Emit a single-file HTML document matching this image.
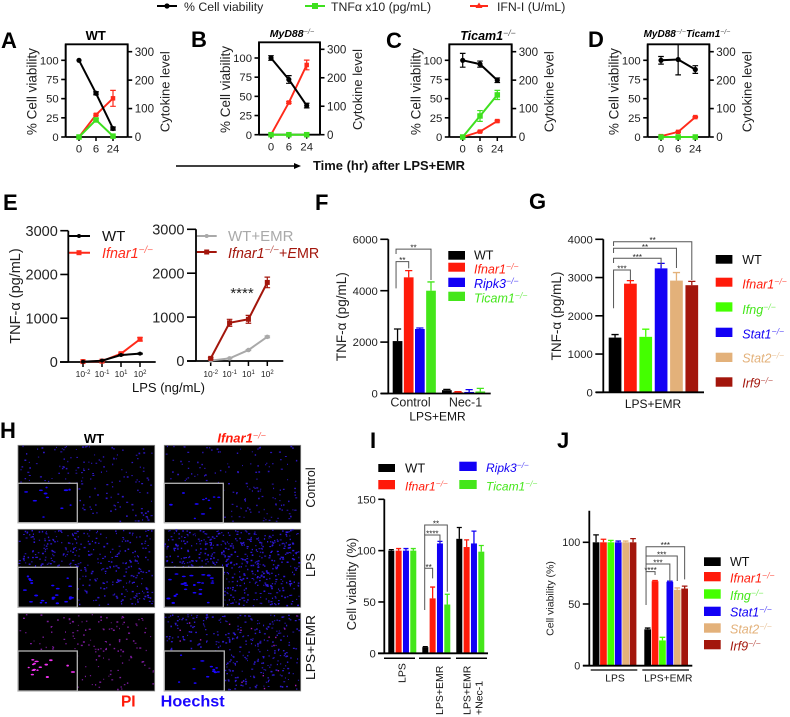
<!DOCTYPE html>
<html lang="en">
<head>
<meta charset="utf-8">
<title>LPS+EMR cell viability figure</title>
<style>
html,body{margin:0;padding:0;background:#fff;width:790px;height:717px;overflow:hidden}
svg{display:block;font-family:"Liberation Sans",sans-serif;filter:blur(.3px)}
.let{font-size:22px;font-weight:700;fill:#000}
.sup{font-size:70%;font-weight:400;opacity:.7}
.leg{font-size:12.5px;font-style:italic}
</style>
</head>
<body>
<svg id="figure" xmlns="http://www.w3.org/2000/svg" width="790" height="717" viewBox="0 0 790 717">
  <rect x="0" y="0" width="790" height="717" fill="#fff"/>

  <g>
    <text class="let" x="1" y="48">A</text>
    <text class="let" x="191" y="47">B</text>
    <text class="let" x="386" y="48">C</text>
    <text class="let" x="588" y="47">D</text>
    <text class="let" x="3" y="210">E</text>
    <text class="let" x="315" y="210">F</text>
    <text class="let" x="529" y="209">G</text>
    <text class="let" x="0" y="438">H</text>
    <text class="let" x="370" y="448">I</text>
    <text class="let" x="557" y="448">J</text>
  </g>

  <g>
    <g>
      <line x1="157" y1="6" x2="177" y2="6" stroke="#000" stroke-width="2"/>
      <circle cx="167" cy="6" r="2.6" fill="#000"/>
      <text x="184" y="11" font-size="12.3" fill="#222">% Cell viability</text>
    </g>
    <g>
      <line x1="305" y1="6" x2="325" y2="6" stroke="#3fe01f" stroke-width="2"/>
      <rect x="312" y="3" width="6" height="6" fill="#3fe01f"/>
      <text x="331" y="11" font-size="12.3" fill="#222">TNFα x10 (pg/mL)</text>
    </g>
    <g>
      <line x1="470" y1="6" x2="488" y2="6" stroke="#ff2a1a" stroke-width="2"/>
      <polygon points="479,2.5 482.5,8 475.5,8" fill="#ff2a1a"/>
      <text x="497" y="11" font-size="12.3" fill="#222">IFN-I (U/mL)</text>
    </g>
  </g>

  <g>
    <line x1="176" y1="166" x2="296" y2="166" stroke="#000" stroke-width="1.4"/>
    <polygon points="301,166 294,163 294,169" fill="#000"/>
    <text x="313" y="170" font-size="12.5" font-weight="700" fill="#111" textLength="152" lengthAdjust="spacingAndGlyphs">Time (hr) after LPS+EMR</text>
  </g>

  <g>
    <text x="95.7" y="40" font-size="13" font-weight="700" text-anchor="middle">WT</text>
    <text x="292" y="37" font-size="10.5" font-weight="700" font-style="italic" text-anchor="middle">MyD88<tspan class="sup" dy="-3">−/−</tspan></text>
    <text x="488" y="40" font-size="12.5" font-weight="700" font-style="italic" text-anchor="middle">Ticam1<tspan class="sup" dy="-4">−/−</tspan></text>
    <text x="687" y="37" font-size="10" font-weight="700" font-style="italic" text-anchor="middle">MyD88<tspan class="sup" dy="-3">−/−</tspan><tspan dy="3">Ticam1</tspan><tspan class="sup" dy="-3">−/−</tspan></text>
  </g>

  <g>
    <g>
      <line x1="68" y1="236" x2="90" y2="236" stroke="#000" stroke-width="2"/><circle cx="79" cy="236" r="2" fill="#000"/>
      <text x="102" y="241" font-size="15" fill="#111">WT</text>
    </g>
    <g>
      <line x1="68" y1="252.7" x2="90" y2="252.7" stroke="#ff2a1a" stroke-width="2"/><rect x="76.5" y="250.2" width="5" height="5" fill="#ff2a1a"/>
      <text x="102" y="258" font-size="14.3" font-style="italic" fill="#ff2a1a">Ifnar1<tspan class="sup" dy="-5">−/−</tspan></text>
    </g>
    <g>
      <line x1="196.7" y1="236" x2="216.7" y2="236" stroke="#a9a9a9" stroke-width="2"/><circle cx="206.7" cy="236" r="2" fill="#a9a9a9"/>
      <text x="228" y="241" font-size="15" fill="#a9a9a9">WT+EMR</text>
    </g>
    <g>
      <line x1="196.7" y1="252" x2="216.7" y2="252" stroke="#a3160c" stroke-width="2"/><rect x="204.2" y="249.5" width="5" height="5" fill="#a3160c"/>
      <text x="228" y="258" font-size="14.3" fill="#a3160c"><tspan font-style="italic">Ifnar1</tspan><tspan class="sup" dy="-5" font-style="italic">−/−</tspan><tspan dy="5">+</tspan><tspan font-style="italic">E</tspan>MR</text>
    </g>
  </g>
  <text x="168.5" y="392" font-size="12.5" text-anchor="middle" fill="#111" textLength="73" lengthAdjust="spacingAndGlyphs">LPS (ng/mL)</text>
  <text x="242" y="298" font-size="15" text-anchor="middle" fill="#222">****</text>

  <g>
    <g><rect x="448.3" y="251" width="16.7" height="8.7" fill="#000"/><text x="474" y="259.7" font-size="12.5" fill="#111">WT</text></g>
    <g><rect x="448.3" y="262.7" width="16.7" height="9" fill="#ff1a0a"/><text class="leg" x="474" y="273.3" fill="#ff1a0a">Ifnar1<tspan class="sup" dy="-4">−/−</tspan></text></g>
    <g><rect x="448.3" y="277.7" width="16.7" height="9.3" fill="#1200f5"/><text class="leg" x="474" y="288" fill="#1200f5">Ripk3<tspan class="sup" dy="-4">−/−</tspan></text></g>
    <g><rect x="448.3" y="291.7" width="16.7" height="9.3" fill="#44e61a"/><text class="leg" x="474" y="302.3" fill="#44e61a">Ticam1<tspan class="sup" dy="-4">−/−</tspan></text></g>
  </g>
  <text x="437.5" y="420.7" font-size="12" text-anchor="middle" fill="#111">LPS+EMR</text>

  <g>
    <g><rect x="715.7" y="255" width="16.7" height="8.7" fill="#000"/><text x="742.3" y="264" font-size="12.5" fill="#111">WT</text></g>
    <g><rect x="715.7" y="277.7" width="16.7" height="9" fill="#ff1a0a"/><text class="leg" x="742.3" y="288.3" fill="#ff1a0a">Ifnar1<tspan class="sup" dy="-4">−/−</tspan></text></g>
    <g><rect x="715.7" y="302.3" width="16.7" height="9.3" fill="#44ff00"/><text class="leg" x="742.3" y="314" fill="#44e61a">Ifng<tspan class="sup" dy="-4">−/−</tspan></text></g>
    <g><rect x="715.7" y="327.7" width="16.7" height="9.3" fill="#1200f5"/><text class="leg" x="742.3" y="338.3" fill="#1200f5">Stat1<tspan class="sup" dy="-4">−/−</tspan></text></g>
    <g><rect x="715.7" y="352.7" width="16.7" height="9.3" fill="#e3b17a"/><text class="leg" x="742.3" y="362.7" fill="#e3b17a">Stat2<tspan class="sup" dy="-4">−/−</tspan></text></g>
    <g><rect x="715.7" y="377.3" width="16.7" height="9.4" fill="#a3160c"/><text class="leg" x="742.3" y="387.3" fill="#a3160c">Irf9<tspan class="sup" dy="-4">−/−</tspan></text></g>
  </g>
  <text x="653" y="408" font-size="12" text-anchor="middle" fill="#111">LPS+EMR</text>

  <g>
    <text x="94" y="443" font-size="13" font-weight="700" text-anchor="middle">WT</text>
    <text x="241.7" y="442.3" font-size="13" font-weight="700" font-style="italic" fill="#ff1a0a" text-anchor="middle">Ifnar1<tspan class="sup" dy="-4">−/−</tspan></text>
    <text transform="rotate(-90 315 487.5)" x="315" y="487.5" font-size="12.5" text-anchor="middle" fill="#111">Control</text>
    <text transform="rotate(-90 315 565)" x="315" y="565" font-size="12.5" text-anchor="middle" fill="#111">LPS</text>
    <text transform="rotate(-90 315 647.5)" x="315" y="647.5" font-size="12.5" text-anchor="middle" fill="#111" textLength="65" lengthAdjust="spacingAndGlyphs">LPS+EMR</text>
    <text x="128.3" y="706.7" font-size="15.5" font-weight="700" fill="#ff1a0a" text-anchor="middle">PI</text>
    <text x="160.7" y="706.7" font-size="15.5" font-weight="700" fill="#1a06ff" textLength="64" lengthAdjust="spacingAndGlyphs">Hoechst</text>
  </g>

  <g>
    <g><rect x="378.3" y="464" width="16.7" height="8" fill="#000"/><text x="405" y="472.3" font-size="13" fill="#111">WT</text></g>
    <g><rect x="378.3" y="480" width="16.7" height="9.3" fill="#ff1a0a"/><text x="405" y="490.7" font-size="12" font-style="italic" fill="#ff1a0a">Ifnar1<tspan class="sup" dy="-4">−/−</tspan></text></g>
    <g><rect x="459.3" y="461.7" width="17.4" height="9.3" fill="#1200f5"/><text x="486" y="472" font-size="12" font-style="italic" fill="#1200f5">Ripk3<tspan class="sup" dy="-4">−/−</tspan></text></g>
    <g><rect x="459.3" y="480" width="17.4" height="9" fill="#44e61a"/><text x="486" y="490.7" font-size="12" font-style="italic" fill="#44e61a">Ticam1<tspan class="sup" dy="-4">−/−</tspan></text></g>
  </g>

  <g>
    <g><rect x="704" y="557.3" width="16.7" height="8.7" fill="#000"/><text x="730" y="566" font-size="12.5" fill="#111">WT</text></g>
    <g><rect x="704" y="572" width="16.7" height="9.3" fill="#ff1a0a"/><text class="leg" x="730" y="582.7" fill="#ff1a0a">Ifnar1<tspan class="sup" dy="-4">−/−</tspan></text></g>
    <g><rect x="704" y="589.3" width="16.7" height="9.4" fill="#44ff00"/><text class="leg" x="730" y="600" fill="#44e61a">Ifng<tspan class="sup" dy="-4">−/−</tspan></text></g>
    <g><rect x="704" y="606.7" width="16.7" height="9.3" fill="#1200f5"/><text class="leg" x="730" y="616.7" fill="#1200f5">Stat1<tspan class="sup" dy="-4">−/−</tspan></text></g>
    <g><rect x="704" y="623.3" width="16.7" height="9.4" fill="#e3b17a"/><text class="leg" x="730" y="633.3" fill="#e3b17a">Stat2<tspan class="sup" dy="-4">−/−</tspan></text></g>
    <g><rect x="704" y="640" width="16.7" height="9.3" fill="#a3160c"/><text class="leg" x="730" y="650.7" fill="#a3160c">Irf9<tspan class="sup" dy="-4">−/−</tspan></text></g>
  </g>
</svg>

<script>
/* ---------- chart data ---------- */
const timeLabels = ['0', '6', '24'];
const viabilityTicks = [0, 25, 50, 75, 100];
const cytokineTicks = [0, 100, 200, 300];

const aViability = [100, 57, 11];
const aViabilityErr = [0, 2, 2];
const aTnf = [0, 60, 3];
const aTnfErr = [0, 5, 0];
const aIfn = [0, 78, 136];
const aIfnErr = [0, 3, 28];

const bViability = [100, 72, 38];
const bViabilityErr = [3, 5, 3];
const bTnf = [0, 0, 0];
const bTnfErr = [0, 0, 0];
const bIfn = [0, 113, 245];
const bIfnErr = [0, 3, 17];

const cViability = [100, 95, 74];
const cViabilityErr = [9, 4, 3];
const cTnf = [0, 74, 148];
const cTnfErr = [0, 19, 16];
const cIfn = [0, 19, 56];
const cIfnErr = [0, 2, 3];

const dViability = [100, 101, 88];
const dViabilityErr = [5, 20, 5];
const dTnf = [0, 0, 0];
const dTnfErr = [0, 0, 0];
const dIfn = [3, 18, 70];
const dIfnErr = [0, 2, 2];

const doseLabels = ['10^-2;', '10^-1;', '10^1;', '10^2;'];
const tnfTicksE = [0, 1000, 2000, 3000];
const eWt = [5, 30, 160, 190];
const eWtErr = [0, 0, 10, 10];
const eIfnar = [10, 20, 190, 520];
const eIfnarErr = [0, 0, 15, 40];
const eWtEmr = [10, 60, 250, 550];
const eWtEmrErr = [0, 10, 10, 20];
const eIfnarEmr = [60, 870, 950, 1790];
const eIfnarEmrErr = [20, 80, 90, 120];

const tnfTicksF = [0, 2000, 4000, 6000];
const fControl = [2040, 4520, 2510, 4000];
const fControlErr = [470, 260, 40, 340];
const fNec = [130, 50, 60, 80];
const fNecErr = [30, 20, 90, 120];

const tnfTicksG = [0, 1000, 2000, 3000, 4000];
const gLpsEmr = [1430, 2840, 1450, 3240, 2920, 2800];
const gLpsEmrErr = [80, 80, 200, 130, 210, 100];

const viabilityTicksI = [0, 50, 100, 150];
const iLps = [100, 100, 100, 100];
const iLpsErr = [1, 2, 2, 2];
const iLpsEmr = [6, 53.5, 107, 47.5];
const iLpsEmrErr = [0.5, 11, 2, 10];
const iNec = [111.5, 103.5, 107, 99];
const iNecErr = [11, 7, 12, 6];

const viabilityTicksJ = [0, 50, 100];
const jLps = [100, 100, 100, 100, 100, 100];
const jLpsErr = [6, 2.5, 1.5, 1, 1, 3];
const jLpsEmr = [29.5, 68.5, 20.5, 68, 61.5, 62.5];
const jLpsEmrErr = [1, 0.5, 2.5, 0.5, 1.5, 2];

/* [group, from bar, to bar, top value, left foot value, right foot value, stars] */
const fBrackets = [[0, 0, 1, 5130, 4090, 4870, '**'], [0, 0, 3, 5620, 5430, 4415, '**']];
const gBrackets = [[0, 0, 1, 3197, 2196, 2936, '***'], [0, 0, 3, 3503, 3380, 3328, '***'], [0, 0, 4, 3765, 3642, 3250, '**'], [0, 0, 5, 3937, 3825, 2936, '**']];
const iBrackets = [[1, 0, 1, 82.8, 42.2, 73, '**'], [1, 0, 2, 115.2, 83, 108.7, '****'], [1, 0, 3, 125, 115, 60, '**']];
const jBrackets = [[1, 0, 1, 76.2, 49.2, 73.5, '****'], [1, 0, 3, 82.4, 76.2, 68, '***'], [1, 0, 4, 88.9, 82.4, 68.6, '***'], [1, 0, 5, 96.4, 88.9, 70, '***']];

const colorsFour = ['#000000', '#ff1a0a', '#1200f5', '#44e61a'];
const colorsSix = ['#000000', '#ff1a0a', '#44ff00', '#1200f5', '#e3b17a', '#a3160c'];
const genesFour = ['wt', 'ifnar1', 'ripk3', 'ticam1'];
const genesSix = ['wt', 'ifnar1', 'ifng', 'stat1', 'stat2', 'irf9'];

/* ---------- drawing helpers ---------- */
const SVGNS = 'http://www.w3.org/2000/svg';
const root = document.getElementById('figure');

function mk(tag, attrs, parent) {
  const n = document.createElementNS(SVGNS, tag);
  Object.keys(attrs).forEach(function (k) { n.setAttribute(k, attrs[k]); });
  parent.appendChild(n);
  return n;
}
function linear(d0, d1, r0, r1) {
  return function (v) { return r0 + (v - d0) * (r1 - r0) / (d1 - d0); };
}
function addGroup(parent, name) {
  const g = mk('g', {}, parent);
  
  
  return g;
}
function addLine(parent, name, x1, y1, x2, y2, color, width) {
  const l = mk('line', { x1: x1, y1: y1, x2: x2, y2: y2, stroke: color, 'stroke-width': width }, parent);
  
  
  return l;
}
function addText(parent, name, x, y, str, size, opts) {
  opts = opts || {};
  const attrs = { x: x, y: y, 'font-size': size, fill: opts.fill || '#111', 'text-anchor': opts.anchor || 'middle' };
  if (opts.rotate) attrs.transform = 'rotate(-90 ' + x + ' ' + y + ')';
  const t = mk('text', attrs, parent);
  
  
  const parts = String(str).split(/\^([^;]*);/);
  parts.forEach(function (p, i) {
    if (p === '') return;
    if (i % 2 === 1) {
      const s = mk('tspan', { dy: -3, 'font-size': size * 0.7 }, t);
      s.textContent = p;
    } else {
      t.appendChild(document.createTextNode(p));
    }
  });
  return t;
}
function yAxis(parent, prefix, scale, ticks, x, top, bottom, tickDir, tickLen, size, color) {
  const g = addGroup(parent, prefix + '-axis');
  addLine(g, prefix + '-axis-line', x, top, x, bottom, color || '#000', 1.8);
  ticks.forEach(function (v) {
    const y = scale(v);
    addLine(g, prefix + '-tick-' + v, x, y, x + tickDir * tickLen, y, color || '#000', 1.6);
    addText(g, prefix + '-tick-label-' + v, x + tickDir * (tickLen + 2.5), y + size * 0.36, String(v), size, { anchor: tickDir < 0 ? 'end' : 'start', fill: '#222' });
  });
}
function xAxis(parent, prefix, scale, labels, y, left, right, tickLen, size, labelY) {
  const g = addGroup(parent, prefix + '-axis');
  addLine(g, prefix + '-axis-line', left, y, right, y, '#000', 1.8);
  labels.forEach(function (lab, i) {
    const x = scale(i);
    addLine(g, prefix + '-tick-' + i, x, y, x, y + tickLen, '#000', 1.5);
    addText(g, prefix + '-tick-label-' + i, x, labelY, lab, size, { fill: '#222' });
  });
}
function drawSeries(parent, name, xs, ys, values, errs, color, marker, size, lineWidth) {
  const g = addGroup(parent, name + '-series');
  const pts = values.map(function (v, i) { return xs(i) + ',' + ys(v); }).join(' ');
  const line = mk('polyline', { points: pts, fill: 'none', stroke: color, 'stroke-width': lineWidth, 'stroke-linejoin': 'round' }, g);
  
  
  values.forEach(function (v, i) {
    const x = xs(i);
    const y = ys(v);
    if (errs[i] > 0) {
      const yHi = ys(v + errs[i]);
      const yLo = ys(v - errs[i]);
      const cap = 2.8;
      const eb = mk('path', { d: 'M' + x + ' ' + yHi + 'V' + yLo + 'M' + (x - cap) + ' ' + yHi + 'H' + (x + cap) + 'M' + (x - cap) + ' ' + yLo + 'H' + (x + cap), stroke: color, 'stroke-width': 1.2, fill: 'none' }, g);
      
      
    }
    let m;
    if (marker === 'circle') {
      m = mk('circle', { cx: x, cy: y, r: size / 2, fill: color }, g);
    } else {
      m = mk('rect', { x: x - size / 2, y: y - size / 2, width: size, height: size, fill: color }, g);
    }
    
    
  });
}
function drawBars(parent, prefix, ys, groupStarts, barW, step, groups, errors, colors, genes) {
  const g = addGroup(parent, prefix + '-bars');
  groups.forEach(function (vals, gi) {
    vals.forEach(function (v, bi) {
      const x = groupStarts[gi] + bi * step;
      const color = colors[bi];
      const base = ys(0);
      const top = ys(v);
      const bar = mk('rect', { x: x, y: top, width: barW, height: base - top, fill: color }, g);
      
      
      const cx = x + barW / 2;
      const yHi = ys(v + errors[gi][bi]);
      const cap = Math.min(barW * 0.42, 3.6);
      const eb = mk('path', { d: 'M' + cx + ' ' + top + 'V' + yHi + 'M' + (cx - cap) + ' ' + yHi + 'H' + (cx + cap), stroke: color, 'stroke-width': 1.3, fill: 'none' }, g);
      
      
    });
  });
}
function drawBrackets(parent, prefix, ys, groupStarts, barW, step, brackets, leftShift) {
  const g = addGroup(parent, prefix + '-significance');
  brackets.forEach(function (b, i) {
    const x1 = groupStarts[b[0]] + b[1] * step + barW / 2 + leftShift;
    const x2 = groupStarts[b[0]] + b[2] * step + barW / 2;
    const yT = ys(b[3]);
    const br = mk('path', { d: 'M' + x1 + ' ' + ys(b[4]) + 'V' + yT + 'H' + x2 + 'V' + ys(b[5]), fill: 'none', stroke: '#555', 'stroke-width': 1 }, g);
    
    
    addText(g, prefix + '-stars-' + i, (x1 + x2) / 2, yT + 1.5, b[6], 8, { fill: '#222' });
  });
}

/* ---------- panels A-D: viability + cytokine time courses ---------- */
function linePanel(id, f, viab, viabErr, tnf, tnfErr, ifn, ifnErr) {
  const g = addGroup(root, 'panel-' + id);
  const yL = linear(0, 100, f.bottom, f.y100);
  const yR = linear(0, 300, f.bottom, f.r300);
  const xs = linear(0, 2, f.t0, f.t2);
  const frame = mk('path', { d: 'M' + f.x0 + ' ' + f.bottom + 'V' + f.top + 'H' + f.x1 + 'V' + f.bottom, fill: 'none', stroke: '#000', 'stroke-width': 1.8 }, g);
  
  
  yAxis(g, 'panel-' + id + '-left-y', yL, viabilityTicks, f.x0, f.top, f.bottom, -1, 4.5, 11.3);
  yAxis(g, 'panel-' + id + '-right-y', yR, cytokineTicks, f.x1, f.top, f.bottom, 1, 4.5, 11.6);
  xAxis(g, 'panel-' + id + '-x', xs, timeLabels, f.bottom, f.x0, f.x1, 4, 11.3, f.bottom + 15.7);
  addText(g, 'panel-' + id + '-left-y-title', f.x0 - 29, (f.top + f.bottom) / 2 + 1, '% Cell viability', 13.5, { rotate: true, fill: '#222' });
  addText(g, 'panel-' + id + '-right-y-title', f.x1 + 42, (f.top + f.bottom) / 2 + 1, 'Cytokine level', 13, { rotate: true, fill: '#222' });
  drawSeries(g, 'panel-' + id + '-ifn', xs, yR, ifn, ifnErr, '#ff2a1a', 'square', 4.5, 1.9);
  drawSeries(g, 'panel-' + id + '-tnf', xs, yR, tnf, tnfErr, '#3fe01f', 'square', 5.5, 2);
  drawSeries(g, 'panel-' + id + '-viability', xs, yL, viab, viabErr, '#000000', 'circle', 5.2, 2);
}
linePanel('a', { x0: 65.7, x1: 127.7, top: 44.3, bottom: 137, y100: 60.3, r300: 51.7, t0: 79, t2: 113 }, aViability, aViabilityErr, aTnf, aTnfErr, aIfn, aIfnErr);
linePanel('b', { x0: 259, x1: 320, top: 42.3, bottom: 134.7, y100: 58, r300: 49.3, t0: 271, t2: 306.7 }, bViability, bViabilityErr, bTnf, bTnfErr, bIfn, bIfnErr);
linePanel('c', { x0: 449.3, x1: 511.7, top: 44.3, bottom: 137, y100: 60.3, r300: 51.7, t0: 462.7, t2: 497.3 }, cViability, cViabilityErr, cTnf, cTnfErr, cIfn, cIfnErr);
linePanel('d', { x0: 647.7, x1: 709.3, top: 44.3, bottom: 137, y100: 60.3, r300: 51.7, t0: 661, t2: 695.3 }, dViability, dViabilityErr, dTnf, dTnfErr, dIfn, dIfnErr);

/* ---------- panel E ---------- */
(function () {
  const g = addGroup(root, 'panel-e');
  const y1 = linear(0, 3000, 362, 230.7);
  const x1 = linear(0, 3, 83, 140);
  yAxis(g, 'panel-e-left-y', y1, tnfTicksE, 68.3, 230.7, 362, -1, 8, 14.5);
  xAxis(g, 'panel-e-left-x', x1, doseLabels, 362, 60, 155.7, 5, 8.5, 377);
  drawSeries(g, 'panel-e-ifnar1', x1, y1, eIfnar, eIfnarErr, '#ff2a1a', 'square', 5, 2);
  drawSeries(g, 'panel-e-wt', x1, y1, eWt, eWtErr, '#000000', 'circle', 4, 2);
  const y2 = linear(0, 3000, 361, 229.3);
  const x2 = linear(0, 3, 210.7, 267.3);
  yAxis(g, 'panel-e-right-y', y2, tnfTicksE, 196, 229.3, 361, -1, 9, 14.5);
  xAxis(g, 'panel-e-right-x', x2, doseLabels, 361, 187, 283.3, 5, 8.5, 377);
  drawSeries(g, 'panel-e-wt-emr', x2, y2, eWtEmr, eWtEmrErr, '#a9a9a9', 'circle', 4.5, 2);
  drawSeries(g, 'panel-e-ifnar1-emr', x2, y2, eIfnarEmr, eIfnarEmrErr, '#a3160c', 'square', 5, 2);
  addText(g, 'panel-e-y-title', 20, 296, 'TNF-α (pg/mL)', 14.5, { rotate: true, fill: '#222' });
})();

/* ---------- panel F ---------- */
(function () {
  const g = addGroup(root, 'panel-f');
  const y = linear(0, 6000, 393.5, 239.3);
  const starts = [392.7, 442];
  drawBars(g, 'panel-f', y, starts, 9.7, 11.15, [fControl, fNec], [fControlErr, fNecErr], colorsFour, genesFour);
  yAxis(g, 'panel-f-y', y, tnfTicksF, 388.3, 239.3, 393.5, -1, 8, 11.3);
  addLine(g, 'panel-f-x-axis-line', 381, 393.5, 490.7, 393.5, '#000', 1.8);
  addText(g, 'panel-f-x-label-control', 410.5, 406.7, 'Control', 12.5, { fill: '#222' });
  addText(g, 'panel-f-x-label-nec1', 465.5, 406.7, 'Nec-1', 12.5, { fill: '#222' });
  addText(g, 'panel-f-y-title', 346, 316.7, 'TNF-α (pg/mL)', 13.5, { rotate: true, fill: '#222' });
  drawBrackets(g, 'panel-f', y, starts, 9.7, 11.15, fBrackets, -1.5);
})();

/* ---------- panel G ---------- */
(function () {
  const g = addGroup(root, 'panel-g');
  const y = linear(0, 4000, 392.3, 239.3);
  const starts = [608.7];
  drawBars(g, 'panel-g', y, starts, 12.7, 15.35, [gLpsEmr], [gLpsEmrErr], colorsSix, genesSix);
  yAxis(g, 'panel-g-y', y, tnfTicksG, 603.3, 239.3, 392.3, -1, 8, 11.3);
  addLine(g, 'panel-g-x-axis-line', 596, 392.3, 704, 392.3, '#000', 1.8);
  addText(g, 'panel-g-y-title', 561, 316, 'TNF-α (pg/mL)', 13.5, { rotate: true, fill: '#222' });
  drawBrackets(g, 'panel-g', y, starts, 12.7, 15.35, gBrackets, -1.5);
})();

/* ---------- panel H: micrograph texture (decorative, deterministic) ---------- */
const micrographs = [
  { name: 'wt-control', x: 18, y: 445.3, w: 136.7, h: 77.4, seed: 101, dots: 210, color: '#2d16c4', accent: 0, insetTop: 483.3, insetW: 59.3, insetDots: 11, insetColor: '#1a06ff' },
  { name: 'ifnar1-control', x: 164.3, y: 445.3, w: 136.4, h: 77.4, seed: 202, dots: 170, color: '#2a14b8', accent: 0, insetTop: 483.3, insetW: 59, insetDots: 11, insetColor: '#1a06ff' },
  { name: 'wt-lps', x: 18, y: 529.3, w: 136.7, h: 78, seed: 303, dots: 430, color: '#2d16d0', accent: 0, insetTop: 567.3, insetW: 59.3, insetDots: 22, insetColor: '#1a06ff' },
  { name: 'ifnar1-lps', x: 164.3, y: 529.3, w: 136.4, h: 78, seed: 404, dots: 620, color: '#2d16d8', accent: 0, insetTop: 567.3, insetW: 59, insetDots: 24, insetColor: '#1a06ff' },
  { name: 'wt-lps-emr', x: 18, y: 613.3, w: 136.7, h: 77.7, seed: 505, dots: 170, color: '#7a1a9c', accent: 0, insetTop: 651, insetW: 59.3, insetDots: 15, insetColor: '#f030f0' },
  { name: 'ifnar1-lps-emr', x: 164.3, y: 613.3, w: 136.4, h: 77.7, seed: 606, dots: 380, color: '#2c18c8', accent: 20, insetTop: 651, insetW: 60, insetDots: 12, insetColor: '#1a06ff' }
];
(function () {
  const panel = addGroup(root, 'panel-h-micrographs');
  micrographs.forEach(function (m) {
    let s = m.seed * 7919;
    function unit() { s = (s * 16807) % 2147483647; return s / 2147483647; }
    for (let i = 0; i < 12; i++) unit();
    const g = addGroup(panel, 'micrograph-' + m.name);
    const bg = mk('rect', { x: m.x, y: m.y, width: m.w, height: m.h, fill: '#000', stroke: '#8c8c8c', 'stroke-width': 0.8 }, g);
    
    
    let d = '';
    for (let i = 0; i < m.dots; i++) {
      const a = 0.9 + unit() * 1.2;
      const b = 0.9 + unit() * 0.7;
      d += 'M' + (m.x + unit() * (m.w - 2)).toFixed(1) + ' ' + (m.y + unit() * (m.h - 2)).toFixed(1) + 'h' + a.toFixed(1) + 'v' + b.toFixed(1) + 'h-' + a.toFixed(1) + 'z';
    }
    const dots = mk('path', { d: d, fill: m.color }, g);
    
    
    if (m.accent) {
      let e = '';
      for (let i = 0; i < m.accent; i++) {
        e += 'M' + (m.x + unit() * (m.w - 2)).toFixed(1) + ' ' + (m.y + unit() * (m.h - 2)).toFixed(1) + 'h1.4v1.4h-1.4z';
      }
      const acc = mk('path', { d: e, fill: '#a01ab0' }, g);
      
      
    }
    const bottom = m.y + m.h;
    const insetH = bottom - m.insetTop;
    const inset = mk('rect', { x: m.x, y: m.insetTop, width: m.insetW, height: insetH, fill: '#000', stroke: '#b4b4b4', 'stroke-width': 1.3 }, g);
    
    
    let ed = '';
    for (let i = 0; i < m.insetDots; i++) {
      const cx = m.x + 4 + unit() * (m.insetW - 8);
      const cy = m.insetTop + 4 + unit() * (insetH - 8);
      const rx = 1.1 + unit() * 1.1;
      ed += 'M' + (cx - rx).toFixed(1) + ' ' + cy.toFixed(1) + 'a' + rx.toFixed(1) + ' 0.8 0 1 0 ' + (2 * rx).toFixed(1) + ' 0a' + rx.toFixed(1) + ' 0.8 0 1 0 -' + (2 * rx).toFixed(1) + ' 0z';
    }
    const cells = mk('path', { d: ed, fill: m.insetColor }, g);
    
    
  });
})();

/* ---------- panel I ---------- */
(function () {
  const g = addGroup(root, 'panel-i');
  const y = linear(0, 150, 653.3, 499.3);
  const starts = [388.3, 422.3, 456.3];
  drawBars(g, 'panel-i', y, starts, 6, 7.33, [iLps, iLpsEmr, iNec], [iLpsErr, iLpsEmrErr, iNecErr], colorsFour, genesFour);
  yAxis(g, 'panel-i-y', y, viabilityTicksI, 384.3, 499.3, 653.3, -1, 6, 11.3);
  addLine(g, 'panel-i-x-axis-line', 378, 653.3, 488, 653.3, '#000', 1.8);
  addLine(g, 'panel-i-group-line-lps', 384, 658.3, 415, 658.3, '#000', 1.5);
  addLine(g, 'panel-i-group-line-lps-emr', 419, 658.3, 450.7, 658.3, '#000', 1.5);
  addLine(g, 'panel-i-group-line-lps-emr-nec1', 456, 658.3, 487, 658.3, '#000', 1.5);
  addText(g, 'panel-i-label-lps', 405.5, 683, 'LPS', 10.5, { rotate: true, anchor: 'start', fill: '#111' });
  addText(g, 'panel-i-label-lps-emr', 443, 715, 'LPS+EMR', 10.5, { rotate: true, anchor: 'start', fill: '#111' });
  addText(g, 'panel-i-label-lps-emr-2', 470.5, 715, 'LPS+EMR', 10.5, { rotate: true, anchor: 'start', fill: '#111' });
  addText(g, 'panel-i-label-nec1', 482.5, 715, '+Nec-1', 10.5, { rotate: true, anchor: 'start', fill: '#111' });
  addText(g, 'panel-i-y-title', 356, 584, 'Cell viability (%)', 13, { rotate: true, fill: '#222' });
  drawBrackets(g, 'panel-i', y, starts, 6, 7.33, iBrackets, -0.6);
})();

/* ---------- panel J ---------- */
(function () {
  const g = addGroup(root, 'panel-j');
  const y = linear(0, 100, 665.7, 542.3);
  const starts = [592.7, 644.3];
  drawBars(g, 'panel-j', y, starts, 6.7, 7.4, [jLps, jLpsEmr], [jLpsErr, jLpsEmrErr], colorsSix, genesSix);
  yAxis(g, 'panel-j-y', y, viabilityTicksJ, 589.3, 510.7, 665.7, -1, 6.5, 10.8);
  addLine(g, 'panel-j-x-axis-line', 583, 665.7, 692.3, 665.7, '#000', 1.8);
  addLine(g, 'panel-j-group-line-lps', 590.7, 670, 637.3, 670, '#000', 1.2);
  addLine(g, 'panel-j-group-line-lps-emr', 642.3, 670, 689, 670, '#000', 1.2);
  addText(g, 'panel-j-label-lps', 615, 681.7, 'LPS', 10.3, { fill: '#111' });
  addText(g, 'panel-j-label-lps-emr', 668.3, 681.7, 'LPS+EMR', 10.3, { fill: '#111' });
  addText(g, 'panel-j-y-title', 553.5, 598.5, 'Cell viability (%)', 10.5, { rotate: true, fill: '#222' });
  drawBrackets(g, 'panel-j', y, starts, 6.7, 7.4, jBrackets, -1.6);
})();
</script>
</body>
</html>
